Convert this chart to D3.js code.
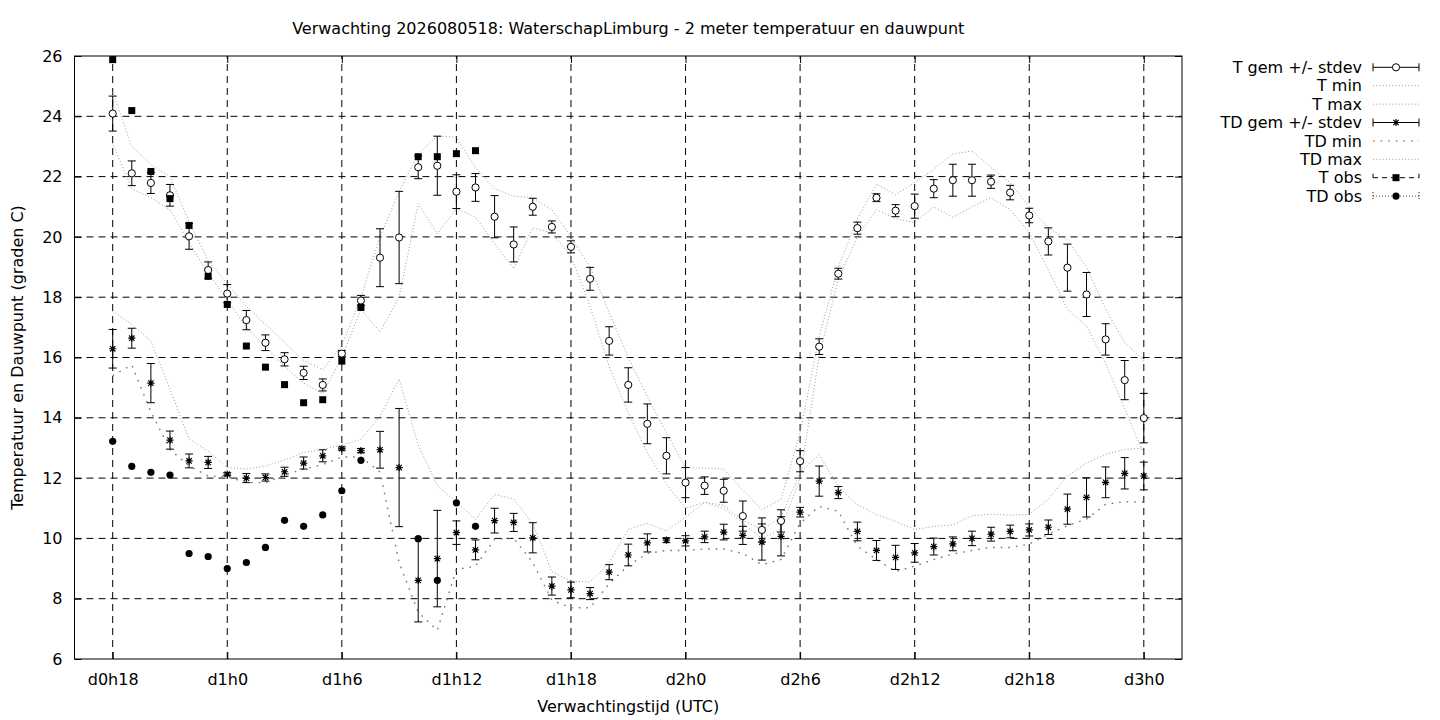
<!DOCTYPE html>
<html><head><meta charset="utf-8">
<script src="https://cdn.jsdelivr.net/npm/d3@7"></script>
<style>
body{margin:0;background:#fff}
svg text{font-family:"DejaVu Sans",sans-serif;fill:#000}
</style>
</head><body>
<svg id="chart" width="1440" height="720"></svg>
<script>
// ---------- data (hours since d0h0) ----------
const hours = [18,19,20,21,22,23,24,25,26,27,28,29,30,31,32,33,34,35,36,37,38,39,40,41,42,43,44,45,
  46,47,48,49,50,51,52,53,54,55,56,57,58,59,60,61,62,63,64,65,66,67,68,69,70,71,72];

const tGem = [24.09,22.11,21.79,21.38,20.02,18.90,18.12,17.24,16.49,15.94,15.49,15.09,16.13,17.89,19.31,19.98,22.31,22.36,
  21.50,21.64,20.67,19.75,21.00,20.33,19.67,18.61,16.55,15.09,13.80,12.74,11.85,11.75,11.58,10.74,10.28,10.58,12.56,16.36,
  18.78,20.29,21.30,20.87,21.02,21.60,21.88,21.88,21.83,21.47,20.71,19.85,18.98,18.09,16.60,15.25,13.99];
const tSd = [0.58,0.41,0.35,0.36,0.43,0.27,0.30,0.32,0.26,0.22,0.22,0.20,0.10,0.17,0.96,1.53,0.38,0.98,
  0.56,0.46,0.70,0.58,0.28,0.20,0.20,0.38,0.47,0.57,0.66,0.60,0.50,0.29,0.38,0.50,0.40,0.37,0.35,0.26,
  0.18,0.20,0.13,0.20,0.40,0.30,0.53,0.53,0.22,0.24,0.24,0.45,0.78,0.73,0.52,0.65,0.82];
const tMin = [23.1,21.6,21.3,20.9,19.8,18.8,17.9,17.0,16.35,15.7,15.15,14.8,16.0,17.6,16.85,18.0,21.1,20.1,
  20.94,20.66,19.78,18.95,20.3,20.13,19.36,17.7,15.7,14.17,12.84,11.8,11.0,11.2,11.0,10.5,10.0,10.3,12.0,16.05,
  18.6,20.0,20.9,20.6,20.48,21.0,20.65,21.0,21.3,20.9,20.14,18.9,17.6,17.05,15.8,14.3,12.8];
const tMax = [24.8,23.0,22.4,22.0,20.5,19.2,18.45,17.7,17.1,16.5,15.9,15.6,16.4,18.0,20.0,21.5,22.75,23.35,
  23.3,22.3,21.6,21.35,21.3,20.9,20.0,19.0,17.5,16.0,14.7,13.5,12.35,12.33,12.3,11.6,10.95,11.3,13.5,16.7,
  19.0,20.6,21.75,21.4,21.8,22.24,22.75,22.85,22.3,21.8,21.0,20.3,19.9,19.0,17.6,16.5,15.9];

const tdGem = [16.29,16.64,15.15,13.26,12.57,12.52,12.13,12.00,12.02,12.21,12.50,12.74,12.98,12.91,12.94,12.35,8.61,9.33,
  10.19,9.62,10.59,10.53,10.02,8.42,8.29,8.17,8.88,9.45,9.85,9.94,9.92,10.05,10.21,10.10,9.88,10.07,10.87,11.90,
  11.52,10.23,9.60,9.37,9.52,9.73,9.82,10.00,10.14,10.23,10.28,10.37,10.97,11.36,11.86,12.16,12.07];
const tdSd = [0.64,0.33,0.65,0.30,0.23,0.20,0.05,0.15,0.12,0.15,0.20,0.20,0.05,0.07,0.61,1.96,1.38,1.60,
  0.39,0.33,0.41,0.30,0.50,0.30,0.26,0.20,0.25,0.36,0.30,0.08,0.17,0.19,0.26,0.30,0.60,0.65,0.16,0.50,
  0.20,0.31,0.33,0.40,0.31,0.28,0.23,0.24,0.23,0.21,0.20,0.24,0.50,0.65,0.51,0.52,0.46];
const tdMin = [15.4,15.75,14.2,12.95,12.4,12.07,12.05,11.85,11.85,12.1,12.3,12.45,12.7,12.7,12.2,9.2,7.55,6.95,
  8.97,9.08,9.97,10.0,9.2,7.95,7.7,7.7,8.5,9.1,9.5,9.6,9.6,9.65,9.65,9.5,9.13,9.3,10.5,11.06,
  10.9,9.74,9.3,8.9,9.08,9.3,9.48,9.6,9.7,9.7,9.81,10.14,10.42,10.64,11.13,11.22,11.2];
const tdMax = [17.53,17.1,16.55,14.95,13.3,12.9,12.35,12.3,12.4,12.6,12.85,12.95,13.1,13.28,14.05,15.29,13.1,11.75,
  11.2,10.63,11.46,11.3,10.5,8.9,8.58,8.55,9.2,10.3,10.5,10.25,10.7,11.2,11.1,10.6,10.3,10.7,12.2,12.77,
  11.72,11.12,10.79,10.57,10.29,10.4,10.45,10.75,10.8,10.77,10.8,11.3,12.07,12.5,12.79,12.95,13.0];

const obsHours = [18,19,20,21,22,23,24,25,26,27,28,29,30,31,34,35,36,37];
const tObs  = [25.88,24.19,22.17,21.27,20.38,18.69,17.76,16.38,15.68,15.10,14.50,14.60,15.88,17.66,22.66,22.66,22.76,22.86];
const tdObs = [13.22,12.39,12.19,12.10,9.50,9.40,9.00,9.20,9.70,10.60,10.40,10.78,11.58,12.59,9.99,8.61,11.18,10.40];

const xTickHours  = [18,24,30,36,42,48,54,60,66,72];
const xTickLabels = ["d0h18","d1h0","d1h6","d1h12","d1h18","d2h0","d2h6","d2h12","d2h18","d3h0"];
const yTicks = [6,8,10,12,14,16,18,20,22,24,26];

const titleText = "Verwachting 2026080518: WaterschapLimburg - 2 meter temperatuur en dauwpunt";
const xLabelText = "Verwachtingstijd (UTC)";
const yLabelText = "Temperatuur en Dauwpunt (graden C)";
const legendLabels = ["T gem +/- stdev","T min","T max","TD gem +/- stdev","TD min","TD max","T obs","TD obs"];

// ---------- layout ----------
const L = 74.5, R = 1182, T = 56, B = 659;
const svg = d3.select("#chart");
const x = d3.scaleLinear().domain([16, 74]).range([L, R]);
const y = d3.scaleLinear().domain([6, 26]).range([B, T]);

const FS = 16;
const DASH_GRID = "7,5";
const FINE_DOT = "1,2.2";
const SPARSE_DOT = "1.6,6";
const DOT_COLOR = "#9a9a9a";

// grid
const grid = svg.append("g");
grid.selectAll("line.gx").data(xTickHours).join("line")
  .attr("x1", d => x(d)).attr("x2", d => x(d)).attr("y1", B).attr("y2", T)
  .attr("stroke", "#000").attr("stroke-width", 1).attr("stroke-dasharray", DASH_GRID);
grid.selectAll("line.gy").data(yTicks.filter(v => v > 6 && v < 26)).join("line")
  .attr("x1", L).attr("x2", R).attr("y1", d => y(d)).attr("y2", d => y(d))
  .attr("stroke", "#000").attr("stroke-width", 1).attr("stroke-dasharray", DASH_GRID);

// axes
const xAxis = d3.axisBottom(x).tickValues(xTickHours).tickFormat((d, i) => xTickLabels[i])
  .tickSizeInner(-7).tickSizeOuter(0).tickPadding(15);
const gx = svg.append("g").attr("transform", `translate(0,${B})`).call(xAxis);
const yAxis = d3.axisLeft(y).tickValues(yTicks).tickFormat(d3.format("d"))
  .tickSizeInner(-7).tickSizeOuter(0).tickPadding(12);
const gy = svg.append("g").attr("transform", `translate(${L},0)`).call(yAxis);
const xAxisTop = d3.axisTop(x).tickValues(xTickHours).tickFormat("").tickSizeInner(-7).tickSizeOuter(0);
const gxt = svg.append("g").attr("transform", `translate(0,${T})`).call(xAxisTop);
const yAxisRight = d3.axisRight(y).tickValues(yTicks).tickFormat("").tickSizeInner(-7).tickSizeOuter(0);
const gyr = svg.append("g").attr("transform", `translate(${R},0)`).call(yAxisRight);
[gx, gy, gxt, gyr].forEach(g => {
  g.select(".domain").remove();
  g.selectAll(".tick line").attr("stroke", "#000");
  g.selectAll("text").attr("font-size", FS).attr("font-family", "DejaVu Sans").attr("fill", "#000");
});

// border
svg.append("rect").attr("x", L).attr("y", T).attr("width", R - L).attr("height", B - T)
  .attr("fill", "none").attr("stroke", "#000").attr("stroke-width", 1);

// ---------- series ----------
const plot = svg.append("g");
function dotted(vals, dash, color, width) {
  const line = d3.line().x((d, i) => x(hours[i])).y(d => y(d));
  plot.append("path").datum(vals).attr("d", line).attr("fill", "none")
    .attr("stroke", color).attr("stroke-width", width).attr("stroke-dasharray", dash);
}
dotted(tMin, FINE_DOT, DOT_COLOR, 1);
dotted(tMax, FINE_DOT, DOT_COLOR, 1);
dotted(tdMin, SPARSE_DOT, "#777", 1.4);
dotted(tdMax, FINE_DOT, DOT_COLOR, 1);

const CAP = 4;
function errorBars(vals, sds) {
  const g = plot.append("g").attr("stroke", "#000").attr("stroke-width", 1);
  hours.forEach((h, i) => {
    const cx = x(h), lo = y(vals[i] - sds[i]), hi = y(vals[i] + sds[i]);
    g.append("line").attr("x1", cx).attr("x2", cx).attr("y1", lo).attr("y2", hi);
    g.append("line").attr("x1", cx - CAP).attr("x2", cx + CAP).attr("y1", lo).attr("y2", lo);
    g.append("line").attr("x1", cx - CAP).attr("x2", cx + CAP).attr("y1", hi).attr("y2", hi);
  });
}
errorBars(tGem, tSd);
errorBars(tdGem, tdSd);

function star(g, cx, cy) {
  const s = 3.6, d = 2.7;
  g.append("path").attr("d",
    `M${cx - s},${cy}H${cx + s}M${cx},${cy - s}V${cy + s}M${cx - d},${cy - d}L${cx + d},${cy + d}M${cx - d},${cy + d}L${cx + d},${cy - d}`)
    .attr("stroke", "#000").attr("stroke-width", 1.2).attr("fill", "none");
}
function openCircle(g, cx, cy) {
  g.append("circle").attr("cx", cx).attr("cy", cy).attr("r", 3.6)
    .attr("fill", "#fff").attr("stroke", "#000").attr("stroke-width", 1);
}
function square(g, cx, cy) {
  g.append("rect").attr("x", cx - 3.5).attr("y", cy - 3.5).attr("width", 7).attr("height", 7).attr("fill", "#000");
}
function dot(g, cx, cy) {
  g.append("circle").attr("cx", cx).attr("cy", cy).attr("r", 3.6).attr("fill", "#000");
}

const marks = plot.append("g");
hours.forEach((h, i) => star(marks, x(h), y(tdGem[i])));
hours.forEach((h, i) => openCircle(marks, x(h), y(tGem[i])));
obsHours.forEach((h, i) => square(marks, x(h), y(tObs[i])));
obsHours.forEach((h, i) => dot(marks, x(h), y(tdObs[i])));

// ---------- texts ----------
svg.append("text").attr("x", (L + R) / 2).attr("y", 34).attr("text-anchor", "middle")
  .attr("font-size", FS).text(titleText);
svg.append("text").attr("x", (L + R) / 2).attr("y", 712).attr("text-anchor", "middle")
  .attr("font-size", FS).text(xLabelText);
svg.append("text").attr("transform", `translate(23,${(T + B) / 2}) rotate(-90)`).attr("text-anchor", "middle")
  .attr("font-size", FS).text(yLabelText);

// ---------- legend ----------
const lg = svg.append("g");
const LX0 = 1373, LX1 = 1419, LXM = (LX0 + LX1) / 2, LTX = 1362;
legendLabels.forEach((lab, i) => {
  const ly = 67.3 + i * 18.4;
  lg.append("text").attr("x", LTX).attr("y", ly).attr("dy", "0.35em").attr("text-anchor", "end")
    .attr("font-size", FS).text(lab);
  const ln = (dash, color, w) => lg.append("line").attr("x1", LX0).attr("x2", LX1).attr("y1", ly).attr("y2", ly)
    .attr("stroke", color).attr("stroke-width", w).attr("stroke-dasharray", dash);
  const caps = (dash) => [LX0, LX1].forEach(cx => lg.append("line").attr("x1", cx).attr("x2", cx)
    .attr("y1", ly - 4).attr("y2", ly + 4).attr("stroke", "#000").attr("stroke-dasharray", dash));
  if (i === 0) { ln(null, "#000", 1); caps(null); openCircle(lg, LXM, ly); }
  if (i === 1 || i === 2 || i === 5) ln(FINE_DOT, DOT_COLOR, 1);
  if (i === 3) { ln(null, "#000", 1); caps(null); star(lg, LXM, ly); }
  if (i === 4) ln(SPARSE_DOT, "#777", 1.4);
  if (i === 6) { ln("5,4", "#000", 1); caps("4,4"); square(lg, LXM, ly); }
  if (i === 7) { ln("1,2", "#555", 1); caps("1,2"); dot(lg, LXM, ly); }
});
</script>
</body></html>
